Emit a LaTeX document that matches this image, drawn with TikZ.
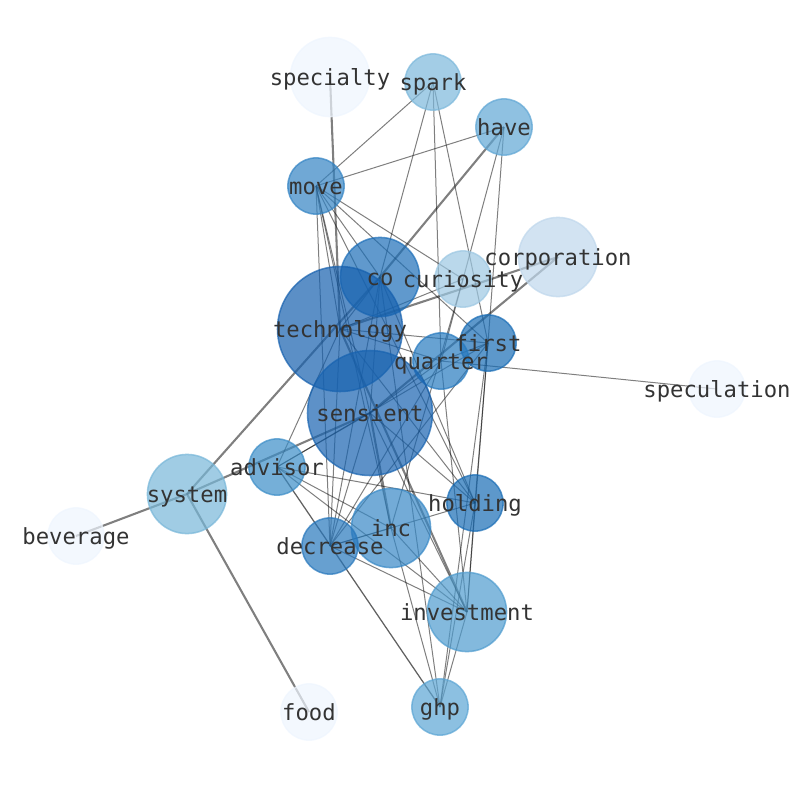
\documentclass[tikz,border=0pt]{standalone}
\usepackage{fontspec}
\newfontfamily\lblfont{DejaVu Sans Mono}
\definecolor{cTech}{RGB}{22,96,174}
\definecolor{cSens}{RGB}{24,99,176}
\definecolor{cCo}{RGB}{28,110,184}
\definecolor{cFirst}{RGB}{24,108,181}
\definecolor{cQuart}{RGB}{39,122,191}
\definecolor{cMove}{RGB}{51,131,195}
\definecolor{cDecr}{RGB}{39,119,188}
\definecolor{cAdv}{RGB}{59,141,199}
\definecolor{cInc}{RGB}{55,136,198}
\definecolor{cInv}{RGB}{78,155,206}
\definecolor{cGhp}{RGB}{91,165,212}
\definecolor{cHave}{RGB}{95,166,212}
\definecolor{cSpark}{RGB}{124,184,219}
\definecolor{cSys}{RGB}{119,182,216}
\definecolor{cCur}{RGB}{156,199,226}
\definecolor{cCorp}{RGB}{191,215,236}
\definecolor{cPale}{RGB}{238,245,254}
\definecolor{cText}{RGB}{51,51,51}
\tikzset{
  thinedge/.style={draw=black, draw opacity=0.5, line width=0.72pt},
  thickedge/.style={draw=black, draw opacity=0.5, line width=1.5pt},
  midedge/.style={draw=black, draw opacity=0.62, line width=0.9pt},
  wnode/.style={circle, inner sep=0pt, line width=1.1pt, fill opacity=0.7, draw opacity=0.7, fill=#1, draw=#1},
  big/.style={minimum size=90pt},
  med/.style={minimum size=57pt},
  sml/.style={minimum size=40.5pt},
  lbl/.style={inner sep=0pt, text height=12pt, text depth=3.8pt, anchor=center, yshift=-2pt, text=cText, font=\lblfont\fontsize{16}{19}\selectfont}
}
\begin{document}
\begin{tikzpicture}[x=0.72pt,y=-0.72pt]
\useasboundingbox (0,0) rectangle (794,790);
\clip (0,0) rectangle (794,790);
% node centres
\coordinate (specialty) at (330,77);
\coordinate (spark) at (433,82);
\coordinate (have) at (504,127);
\coordinate (move) at (316,186);
\coordinate (co) at (380,277);
\coordinate (curiosity) at (463,279);
\coordinate (corporation) at (558,257);
\coordinate (technology) at (340,329);
\coordinate (first) at (488,343);
\coordinate (quarter) at (441,361);
\coordinate (speculation) at (717,389);
\coordinate (sensient) at (370,413);
\coordinate (advisor) at (277,467);
\coordinate (system) at (187,494);
\coordinate (holding) at (475,503);
\coordinate (inc) at (391,528);
\coordinate (decrease) at (330,546);
\coordinate (beverage) at (76,536);
\coordinate (investment) at (467,612);
\coordinate (ghp) at (440,707);
\coordinate (food) at (309,712);
% thin edges
\foreach \a/\b in {spark/move, spark/co, spark/quarter, spark/first,
  have/move, have/quarter, have/first,
  move/curiosity, move/first, move/co, move/technology, move/sensient, move/inc, move/decrease, move/holding,
  co/holding, co/decrease, co/ghp, co/sensient, co/technology,
  curiosity/inc, curiosity/technology,
  technology/first, technology/quarter, technology/holding, technology/decrease, technology/advisor,
  quarter/speculation, quarter/first, quarter/sensient, quarter/investment, quarter/decrease,
  first/holding, first/investment, first/ghp, first/decrease, first/advisor,
  sensient/holding, sensient/decrease, sensient/investment, sensient/advisor,
  advisor/holding, advisor/inc, advisor/investment,
  decrease/holding, decrease/investment, decrease/inc,
  inc/investment, inc/ghp,
  holding/investment, holding/ghp,
  investment/ghp}
  \draw[thinedge] (\a) -- (\b);
\draw[midedge] (advisor) -- (ghp);
% thick edges
\foreach \a/\b in {specialty/technology, co/have, co/system, system/sensient,
  system/beverage, system/food, corporation/sensient, corporation/technology,
  technology/investment, sensient/inc}
  \draw[thickedge] (\a) -- (\b);
% nodes
\node[wnode=cPale, med] (n-specialty) at (specialty) {};
\node[wnode=cSpark, sml] (n-spark) at (spark) {};
\node[wnode=cHave, sml] (n-have) at (have) {};
\node[wnode=cMove, sml] (n-move) at (move) {};
\node[wnode=cCo, med] (n-co) at (co) {};
\node[wnode=cCur, sml] (n-curiosity) at (curiosity) {};
\node[wnode=cCorp, med] (n-corporation) at (corporation) {};
\node[wnode=cTech, big] (n-technology) at (technology) {};
\node[wnode=cFirst, sml] (n-first) at (first) {};
\node[wnode=cQuart, sml] (n-quarter) at (quarter) {};
\node[wnode=cPale, sml] (n-speculation) at (speculation) {};
\node[wnode=cSens, big] (n-sensient) at (sensient) {};
\node[wnode=cAdv, sml] (n-advisor) at (advisor) {};
\node[wnode=cSys, med] (n-system) at (system) {};
\node[wnode=cFirst, sml] (n-holding) at (holding) {};
\node[wnode=cInc, med] (n-inc) at (inc) {};
\node[wnode=cDecr, sml] (n-decrease) at (decrease) {};
\node[wnode=cPale, sml] (n-beverage) at (beverage) {};
\node[wnode=cInv, med] (n-investment) at (investment) {};
\node[wnode=cGhp, sml] (n-ghp) at (ghp) {};
\node[wnode=cPale, sml] (n-food) at (food) {};
% labels
\foreach \n in {specialty, spark, have, move, co, curiosity, corporation, technology, first, quarter, speculation, sensient, advisor, system, holding, inc, decrease, beverage, investment, ghp, food}
  \node[lbl] (l-\n) at (\n) {\n};
\end{tikzpicture}
\end{document}
